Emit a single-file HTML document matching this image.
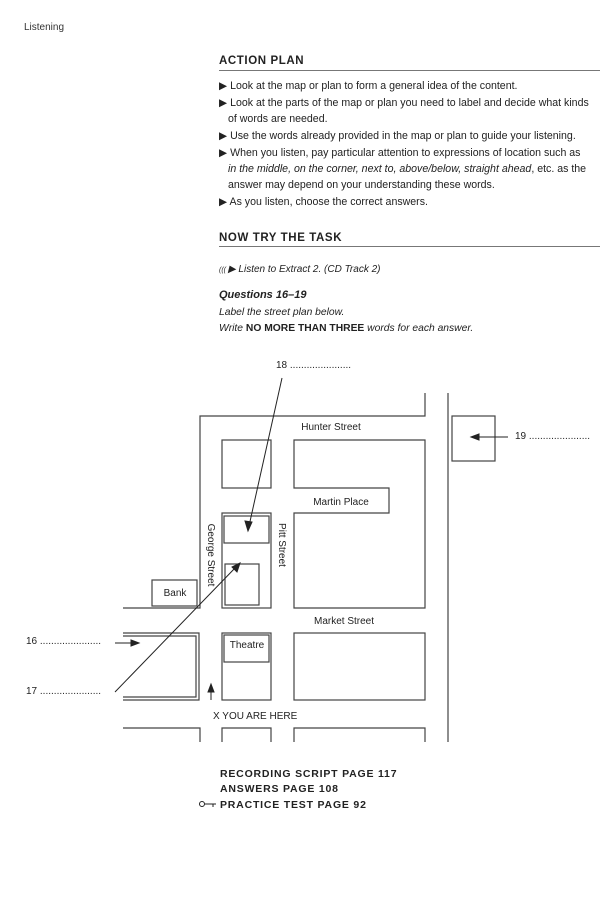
<!DOCTYPE html>
<html><head><meta charset="utf-8"><style>
html,body{margin:0;padding:0;background:#fff;}
body{width:600px;height:904px;overflow:hidden;position:relative;}
svg{position:absolute;left:0;top:0;}
</style></head><body>
<svg width="600" height="904" viewBox="0 0 600 904" xmlns="http://www.w3.org/2000/svg" font-family="Liberation Sans, sans-serif">
<text x="24" y="30" font-size="10" fill="#333">Listening</text>
<text x="219" y="64" font-size="11.5" font-weight="bold" fill="#222" letter-spacing="0.6">ACTION PLAN</text>
<line x1="219" y1="70.5" x2="600" y2="70.5" stroke="#777" stroke-width="1"/>
<g font-size="10.6" fill="#222">
<text x="219" y="89">▶ Look at the map or plan to form a general idea of the content.</text>
<text x="219" y="106">▶ Look at the parts of the map or plan you need to label and decide what kinds</text>
<text x="228" y="122">of words are needed.</text>
<text x="219" y="139">▶ Use the words already provided in the map or plan to guide your listening.</text>
<text x="219" y="156">▶ When you listen, pay particular attention to expressions of location such as</text>
<text x="228" y="172"><tspan font-style="italic">in the middle, on the corner, next to, above/below, straight ahead</tspan>, etc. as the</text>
<text x="228" y="188">answer may depend on your understanding these words.</text>
<text x="219" y="205">▶ As you listen, choose the correct answers.</text>
</g>
<text x="219" y="241" font-size="11.5" font-weight="bold" fill="#222" letter-spacing="0.6">NOW TRY THE TASK</text>
<line x1="219" y1="246.5" x2="600" y2="246.5" stroke="#777" stroke-width="1"/>
<text x="219" y="272" font-size="10" fill="#222" font-style="italic"><tspan font-size="7">((( </tspan>▶ Listen to Extract 2. (CD Track 2)</text>
<text x="219" y="298" font-size="11" fill="#222" font-style="italic" font-weight="bold">Questions 16–19</text>
<text x="219" y="315" font-size="10.3" fill="#222" font-style="italic">Label the street plan below.</text>
<text x="219" y="331" font-size="10.3" fill="#222"><tspan font-style="italic">Write </tspan><tspan font-weight="bold">NO MORE THAN THREE</tspan><tspan font-style="italic"> words for each answer.</tspan></text>

<g stroke="#444" stroke-width="1.2" fill="none">
<polyline points="425,393 425,416 200,416 200,608 123,608"/>
<line x1="448" y1="393" x2="448" y2="742"/>
<rect x="452" y="416" width="43" height="45"/>
<rect x="152" y="580" width="45" height="26"/>
<rect x="222" y="440" width="49" height="48"/>
<polygon points="294,440 425,440 425,608 294,608 294,513 389,513 389,488 294,488"/>
<rect x="222" y="513" width="49" height="95"/>
<rect x="224" y="516" width="45" height="27"/>
<rect x="225" y="564" width="34" height="41"/>
<polyline points="123,633 199,633 199,700 123,700"/>
<polyline points="123,636 196,636 196,697 123,697"/>
<rect x="222" y="633" width="49" height="67"/>
<rect x="224" y="635" width="45" height="27"/>
<rect x="294" y="633" width="131" height="67"/>
<polyline points="123,728 200,728 200,742"/>
<polyline points="222,742 222,728 271,728 271,742"/>
<polyline points="294,742 294,728 425,728 425,742"/>
</g>
<g stroke="#222" stroke-width="1" fill="#222">
<line x1="282" y1="378" x2="249" y2="526"/>
<polygon points="248,531 245,521 252,522"/>
<line x1="115" y1="692" x2="236" y2="567"/>
<polygon points="240,563 237,572 232,567"/>
<line x1="115" y1="643" x2="133" y2="643"/>
<polygon points="139,643 131,640 131,646"/>
<line x1="508" y1="437" x2="477" y2="437"/>
<polygon points="471,437 479,434 479,440"/>
<line x1="211" y1="700" x2="211" y2="690"/>
<polygon points="211,684 208,692 214,692"/>
</g>
<g font-size="10" fill="#222">
<text x="331" y="430" text-anchor="middle">Hunter Street</text>
<text x="341" y="505" text-anchor="middle">Martin Place</text>
<text x="175" y="596" text-anchor="middle">Bank</text>
<text x="344" y="624" text-anchor="middle">Market Street</text>
<text x="247" y="648" text-anchor="middle">Theatre</text>
<text x="213" y="719">X  YOU ARE HERE</text>
<text transform="translate(208,555) rotate(90)" text-anchor="middle">George Street</text>
<text transform="translate(279,545) rotate(90)" text-anchor="middle">Pitt Street</text>
</g>
<g font-size="10" fill="#222">
<text x="276" y="368">18 ......................</text>
<text x="515" y="439">19 ......................</text>
<text x="26" y="644">16 ......................</text>
<text x="26" y="694">17 ......................</text>
</g>
<g font-size="10.5" font-weight="bold" fill="#222" letter-spacing="0.8">
<text x="220" y="777">RECORDING SCRIPT PAGE 117</text>
<text x="220" y="792">ANSWERS PAGE 108</text>
<text x="220" y="808">PRACTICE TEST PAGE 92</text>
</g>
<g stroke="#222" stroke-width="1" fill="none">
<circle cx="202" cy="804" r="2.5"/>
<line x1="205" y1="804" x2="216" y2="804"/>
<line x1="213" y1="804" x2="213" y2="807"/>
</g>
</svg>
</body></html>
